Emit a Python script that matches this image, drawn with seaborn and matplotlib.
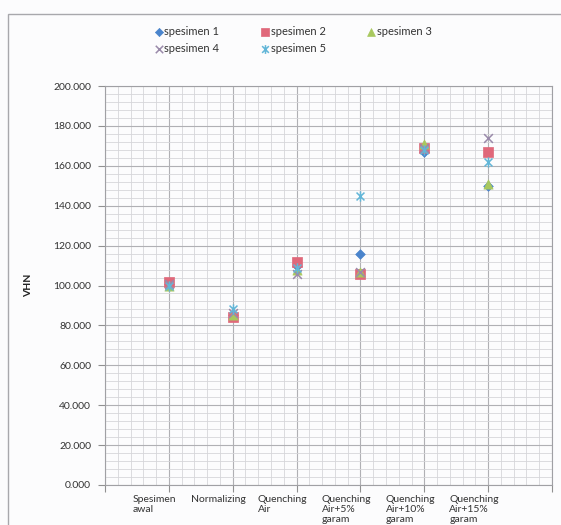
import numpy as np
import pandas as pd
import matplotlib
matplotlib.use("Agg")
import matplotlib.pyplot as plt
import matplotlib.transforms as mtransforms
from matplotlib.path import Path
from matplotlib.patches import Rectangle
from matplotlib.ticker import MultipleLocator, FixedLocator
import seaborn as sns

# Treatment stages (x categories)
categories = [
    "Spesimen\nawal",
    "Normalizing",
    "Quenching\nAir",
    "Quenching\nAir+5%\ngaram",
    "Quenching\nAir+10%\ngaram",
    "Quenching\nAir+15%\ngaram",
]

# Vickers hardness per specimen
spesimen_1 = [101.0, 85.0, 110.0, 116.0, 167.0, 150.0]
spesimen_2 = [102.0, 84.0, 112.0, 106.0, 169.0, 167.0]
spesimen_3 = [99.5, 85.0, 108.0, 107.0, 171.0, 151.0]
spesimen_4 = [101.0, 86.0, 106.0, 107.0, 169.0, 174.0]
spesimen_5 = [100.0, 88.0, 109.0, 145.0, 168.0, 162.0]

series_names = ["spesimen 1", "spesimen 2", "spesimen 3", "spesimen 4", "spesimen 5"]
series_values = [spesimen_1, spesimen_2, spesimen_3, spesimen_4, spesimen_5]

rows = []
for name, vals in zip(series_names, series_values):
    for i, v in enumerate(vals):
        rows.append({"series": name, "pos": i, "VHN": v})
df = pd.DataFrame(rows)

# Asterisk marker: an "x" with a vertical bar through it
asterisk = Path(
    [(-1, -1), (1, 1), (-1, 1), (1, -1), (0, -1.3), (0, 1.3)],
    [Path.MOVETO, Path.LINETO, Path.MOVETO, Path.LINETO, Path.MOVETO, Path.LINETO],
)

styles = {
    "spesimen 1": dict(marker="D", color="#4A84CC", s=24, edgecolor="#4A84CC", linewidth=0.5),
    "spesimen 2": dict(marker="s", color="#E0687A", s=44, edgecolor="#E0687A", linewidth=0.5),
    "spesimen 3": dict(marker="^", color="#A8C85E", s=44, edgecolor="#A8C85E", linewidth=0.5),
    "spesimen 4": dict(marker="x", color="#9A8AAA", s=40, linewidth=1.1),
    "spesimen 5": dict(marker=asterisk, color="#62B6D8", s=55, edgecolor="#62B6D8", linewidth=1.1),
}

sns.set_theme(style="white")
plt.rcParams["font.family"] = ["Lato", "DejaVu Sans"]

W, H = 561, 525
fig = plt.figure(figsize=(W / 100, H / 100), dpi=100, facecolor="#FCFCFD")
ax = fig.add_axes([105 / W, 1 - 485 / H, 447 / W, 399 / H])
ax.set_facecolor("#FCFCFD")

for name in series_names:
    sub = df[df["series"] == name]
    sns.scatterplot(data=sub, x="pos", y="VHN", ax=ax, label=name, zorder=3, **styles[name])

# Axes limits, ticks, grid
ax.set_xlim(-1, 6)
ax.set_ylim(0, 200)
ax.yaxis.set_major_locator(MultipleLocator(20))
ax.yaxis.set_minor_locator(MultipleLocator(4))
ax.xaxis.set_major_locator(FixedLocator(range(-1, 7)))
ax.xaxis.set_minor_locator(MultipleLocator(0.2))
ax.set_xticklabels([""] + categories + [""])
ax.set_yticks(np.arange(0, 201, 20))
ax.set_yticklabels([f"{v:.3f}" for v in np.arange(0, 201, 20)])

ax.grid(which="major", color="#B0B0B4", linewidth=0.8)
ax.grid(which="minor", color="#D6D6DA", linewidth=0.6)
ax.set_axisbelow(True)

ax.tick_params(axis="y", which="major", direction="out", length=5, width=0.8,
               color="#909090", pad=5, labelsize=7.5, labelcolor="#333333", left=True)
ax.tick_params(axis="x", which="major", direction="out", length=5, width=0.8,
               color="#909090", pad=2, labelsize=7.5, labelcolor="#333333", bottom=True)
ax.tick_params(which="minor", length=0)

for lbl in ax.get_xticklabels():
    lbl.set_multialignment("left")
    lbl.set_linespacing(1.15)
    lbl.set_verticalalignment("top")
    lbl.set_transform(lbl.get_transform() + mtransforms.ScaledTranslation(-14 / 100, 0, fig.dpi_scale_trans))

for side in ["left", "bottom", "right", "top"]:
    ax.spines[side].set_color("#A0A0A4")
    ax.spines[side].set_linewidth(0.8)

ax.set_xlabel("")
ax.set_ylabel("VHN", fontsize=7.5, fontweight="bold", color="#222222")
ax.yaxis.set_label_coords((33 - 105) / 447, 0.5)

# Legend in two rows across the top
handles, labels = ax.get_legend_handles_labels()
order = [0, 3, 1, 4, 2]
leg = fig.legend([handles[i] for i in order], [labels[i] for i in order],
                 ncol=3, loc="upper left", bbox_to_anchor=(150 / W, 1 - 20 / H),
                 frameon=False, fontsize=8, handlelength=0.6, handletextpad=0.2,
                 columnspacing=3.8, labelspacing=0.6, borderpad=0, markerscale=0.85)
for t in leg.get_texts():
    t.set_color("#333333")
if ax.get_legend() is not None:
    ax.get_legend().remove()

# Outer chart-area frame
fig.add_artist(Rectangle((8 / W, -0.1), 1.2, 1.1 - 14 / H, transform=fig.transFigure,
                         fill=False, edgecolor="#A8A8AC", linewidth=1.0))

fig.savefig("out.png", dpi=100, facecolor=fig.get_facecolor())
